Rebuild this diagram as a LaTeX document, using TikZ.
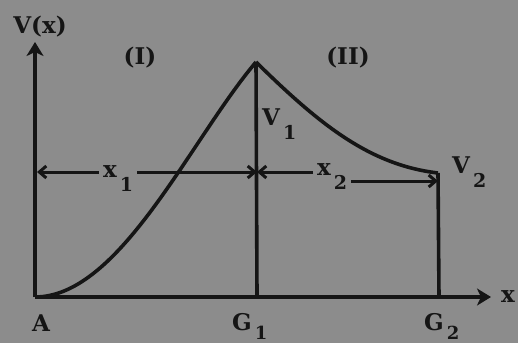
\documentclass[tikz,border=0pt]{standalone}
\usepackage{fontspec}
\setmainfont{DejaVu Serif}
\usetikzlibrary{arrows.meta}
\definecolor{paper}{HTML}{8C8C8C}
\definecolor{ink}{HTML}{151515}
\newcommand{\sbx}[1]{\hspace{3pt}\raisebox{-14pt}{\fontsize{19}{19}\selectfont #1}}
\newcommand{\sbg}[1]{\hspace{3pt}\raisebox{-9pt}{\fontsize{18}{18}\selectfont #1}}
\begin{document}
\begin{tikzpicture}[x=1pt,y=-1pt,
  >={Straight Barb[length=7pt,width=12pt]},
  ln/.style={draw=ink,line width=3.6pt},
  dim/.style={draw=ink,line width=3pt},
  axis/.style={ln,-{Stealth[length=14pt,width=17pt,inset=4pt]}},
  lbl/.style={text=ink,font=\fontsize{23}{23}\selectfont\bfseries,inner sep=0pt},
  gap/.style={lbl,fill=paper,inner xsep=4pt,inner ysep=3pt}]
\fill[paper] (0,0) rectangle (518,343);
\useasboundingbox (0,0) rectangle (518,343);
\coordinate (A) at (35,297);
\coordinate (Ytop) at (35,42);
\coordinate (Xend) at (491,297);
\coordinate (P) at (256,62);
\coordinate (G1) at (257,297);
\coordinate (Q) at (438,173);
\coordinate (Q2) at (438,181);
\coordinate (G2) at (439,297);
\coordinate (L1) at (37,172);
\coordinate (R1) at (257,172);
\draw[axis] (A) -- (Ytop);
\draw[axis] (A) -- (Xend);
\draw[ln] (G1) -- (P);
\draw[ln] (G2) -- (Q);
\draw[ln] (A) .. controls (120,297) and (190,140) .. (P);
\draw[ln] (P) .. controls (320,125) and (370,165) .. (Q);
\node[gap,anchor=base west] (X1) at (99,177) {x\sbx{1}};
\draw[dim,<-] (L1) -- (L1 -| X1.west);
\draw[dim,->] (R1 -| X1.east) -- (R1);
\node[gap,anchor=base west] (X2) at (313,175) {x\sbx{2}};
\draw[dim,->] (R1 -| X2.west) -- (R1);
\draw[dim,->] (Q2 -| X2.east) -- (Q2);
\node[lbl,anchor=base] (VX) at (40,33) {V(x)};
\node[lbl,anchor=base] (I1) at (140,64) {(I)};
\node[lbl,anchor=base] (I2) at (348,64) {(II)};
\node[lbl,anchor=base west] (V1) at (262,125) {V\sbx{1}};
\node[lbl,anchor=base west] (V2) at (452,173) {V\sbx{2}};
\node[lbl,anchor=base] (XL) at (508,302) {x};
\node[lbl,anchor=base] (AL) at (41,331) {A};
\node[lbl,anchor=base west] (G1L) at (232,330) {G\sbg{1}};
\node[lbl,anchor=base west] (G2L) at (424,330) {G\sbg{2}};
\end{tikzpicture}
\end{document}
